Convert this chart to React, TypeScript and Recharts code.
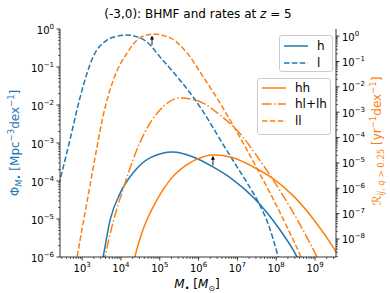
import React from 'react';
import { LineChart, Line, XAxis, YAxis, ReferenceLine } from 'recharts';

const BLUE = '#1f77b4';
const ORANGE = '#ff7f0e';
const FONT = '"DejaVu Sans", sans-serif';

// everything below is log10
// BHMF, left axis
const hMass = [3.50, 3.54, 3.72, 3.98, 4.31, 4.75, 5.34, 5.86, 6.37, 6.89, 7.40, 7.77, 8.10, 8.44, 8.54, 8.6];
const hPhi = [-6.2, -6.0, -5.03, -4.32, -3.79, -3.39, -3.24, -3.37, -3.63, -3.97, -4.42, -4.84, -5.29, -5.82, -6.0, -6.1];
const lMass = [2.35, 2.43, 2.69, 2.95, 3.28, 3.64, 3.90, 4.16, 4.40, 4.67, 5.01, 5.45, 5.86, 6.22, 6.55, 6.90, 7.25, 7.56, 7.80, 8.05, 8.1];
const lPhi = [-4.3, -3.98, -2.90, -1.79, -0.74, -0.29, -0.19, -0.16, -0.20, -0.34, -0.74, -1.26, -1.79, -2.34, -2.90, -3.48, -4.05, -4.60, -5.15, -6.0, -6.2];

// merger rates, right axis
const hhMass = [4.30, 4.36, 4.57, 4.93, 5.27, 5.70, 6.12, 6.37, 6.89, 7.40, 7.92, 8.44, 8.95, 9.54, 9.6];
const hhRate = [-9.1, -8.70, -7.63, -6.45, -5.66, -5.07, -4.76, -4.68, -4.80, -5.15, -5.62, -6.30, -7.20, -8.50, -8.65];
const hlMass = [3.55, 3.59, 3.80, 4.05, 4.31, 4.62, 5.01, 5.52, 6.04, 6.55, 7.07, 7.58, 8.10, 8.62, 9.05, 9.15];
const hlRate = [-9.0, -8.70, -7.32, -6.06, -4.88, -3.78, -2.90, -2.44, -2.59, -3.11, -3.85, -4.90, -6.10, -7.45, -8.70, -9.0];
const llMass = [2.80, 2.87, 3.13, 3.38, 3.54, 3.80, 4.16, 4.49, 4.83, 5.27, 5.70, 6.12, 6.55, 6.89, 7.25, 7.58, 7.92, 8.27, 8.62, 8.70];
const llRate = [-9.3, -8.70, -6.50, -4.40, -3.15, -1.75, -0.66, -0.07, 0.08, -0.07, -0.66, -1.61, -2.63, -3.52, -4.50, -5.43, -6.42, -7.50, -8.65, -8.95];

// peak markers (log M, tail, head)
const arrowMass = [4.80, 6.37];
const arrowTail = [-0.36, -5.1];
const arrowHead = [0.02, -4.72];

const xExp = [3, 4, 5, 6, 7, 8, 9];
const leftExp = [-6, -5, -4, -3, -2, -1, 0];
const rightExp = [-8, -7, -6, -5, -4, -3, -2, -1, 0];

const xDomain = [10 ** 2.43, 10 ** 9.54];
const leftDomain = [1e-6, 1];
const rightDomain = [10 ** -8.71, 10 ** 0.28];

const toPoints = (mass: number[], vals: number[]) =>
  mass.map((m, i) => ({ m: 10 ** m, v: 10 ** vals[i] }));

const withMinors = (exps: number[], dom: number[]) => {
  const out: number[] = [];
  for (let e = exps[0] - 1; e <= exps[exps.length - 1]; e++) {
    for (let k = 1; k < 10; k++) {
      const v = k * 10 ** e;
      if (v >= dom[0] * 0.999 && v <= dom[1] * 1.001) out.push(v);
    }
  }
  return out;
};

const isMajor = (v: number) => {
  const e = Math.log10(v);
  return Math.abs(e - Math.round(e)) < 1e-6;
};
const expText = (v: number) => String(Math.round(Math.log10(v))).replace('-', '\u2212');

const XTick = ({ x, y, payload }: any) => {
  const major = isMajor(payload.value);
  return (
    <g>
      <line x1={x} y1={y} x2={x} y2={y + (major ? 3.5 : 2)} stroke="#000" strokeWidth={major ? 0.8 : 0.6} />
      {major && (
        <text x={x} y={y + 15} textAnchor="middle" fontSize={10} fontFamily={FONT} fill="#000">
          10<tspan dy={-5} fontSize={7}>{expText(payload.value)}</tspan>
        </text>
      )}
    </g>
  );
};

const YTick = ({ x, y, payload, side }: any) => {
  const major = isMajor(payload.value);
  const s = side === 'left' ? -1 : 1;
  return (
    <g>
      <line x1={x} y1={y} x2={x + s * (major ? 3.5 : 2)} y2={y} stroke="#000" strokeWidth={major ? 0.8 : 0.6} />
      {major && (
        <text x={x + s * 6} y={y + 4.5} textAnchor={side === 'left' ? 'end' : 'start'} fontSize={10} fontFamily={FONT} fill="#000">
          10<tspan dy={-5} fontSize={7}>{expText(payload.value)}</tspan>
        </text>
      )}
    </g>
  );
};

const ArrowShape = (p: any) => {
  const { x1, y1, x2, y2 } = p;
  return (
    <g>
      <line x1={x1} y1={y1} x2={x2} y2={y2 + 3} stroke="#000" strokeWidth={0.9} />
      <path d={`M${x2 - 2},${y2 + 4} L${x2},${y2} L${x2 + 2},${y2 + 4} Z`} fill="#000" />
    </g>
  );
};

const legendTop = [
  { name: 'h', color: BLUE, dash: undefined },
  { name: 'l', color: BLUE, dash: '5.5 2.4' },
];
const legendBottom = [
  { name: 'hh', color: ORANGE, dash: undefined },
  { name: 'hl+lh', color: ORANGE, dash: '9.6 2.4 1.5 2.4' },
  { name: 'll', color: ORANGE, dash: '5.5 2.4' },
];

const LegendBox = ({ items, left, top, width, height, rows }: any) => (
  <div
    style={{
      position: 'absolute', left, top, width, height, boxSizing: 'border-box',
      border: '1px solid #ccc', borderRadius: 3, background: 'rgba(255,255,255,0.8)',
    }}
  >
    {items.map((it: any, i: number) => (
      <div key={it.name} style={{ position: 'absolute', left: 3, top: rows[i] - 7, height: 14, display: 'flex', alignItems: 'center' }}>
        <svg width={26} height={14}>
          <line x1={1} y1={7} x2={25} y2={7} stroke={it.color} strokeWidth={1.5} strokeDasharray={it.dash} />
        </svg>
        <span style={{ marginLeft: 8, fontSize: 12, lineHeight: '14px' }}>{it.name}</span>
      </div>
    ))}
  </div>
);

const sub = (fs: number, top: number): React.CSSProperties => ({ fontSize: fs, position: 'relative', top });

export default function App() {
  const xTicks = withMinors(xExp, xDomain);
  const leftTicks = withMinors(leftExp, leftDomain);
  const rightTicks = withMinors(rightExp, rightDomain);

  return (
    <div style={{ position: 'absolute', left: 0, top: 0, width: 390, height: 293, fontFamily: FONT, color: '#000', background: '#fff' }}>
      <LineChart width={390} height={293} margin={{ top: 29, right: 0, bottom: 0, left: 0 }}>
        <XAxis
          dataKey="m" type="number" scale="log" domain={xDomain} allowDataOverflow
          ticks={xTicks} interval={0} tick={(p: any) => <XTick {...p} />}
          tickLine={false} tickSize={0} tickMargin={0} height={36}
          axisLine={{ stroke: '#000', strokeWidth: 0.8 }}
        />
        <XAxis xAxisId="top" orientation="top" type="number" domain={[0, 1]} height={0} tick={false} tickLine={false} axisLine={{ stroke: '#000', strokeWidth: 0.8 }} />
        <YAxis
          yAxisId="left" type="number" scale="log" domain={leftDomain} allowDataOverflow
          ticks={leftTicks} interval={0} tick={(p: any) => <YTick {...p} side="left" />}
          tickLine={false} tickSize={0} tickMargin={0} width={60}
          axisLine={{ stroke: '#000', strokeWidth: 0.8 }}
        />
        <YAxis
          yAxisId="right" orientation="right" type="number" scale="log" domain={rightDomain} allowDataOverflow
          ticks={rightTicks} interval={0} tick={(p: any) => <YTick {...p} side="right" />}
          tickLine={false} tickSize={0} tickMargin={0} width={54}
          axisLine={{ stroke: '#000', strokeWidth: 0.8 }}
        />
        <Line yAxisId="left" data={toPoints(hMass, hPhi)} dataKey="v" type="monotone" stroke={BLUE} strokeWidth={1.5} dot={false} isAnimationActive={false} />
        <Line yAxisId="left" data={toPoints(lMass, lPhi)} dataKey="v" type="monotone" stroke={BLUE} strokeWidth={1.5} strokeDasharray="5.5 2.4" dot={false} isAnimationActive={false} />
        <Line yAxisId="right" data={toPoints(hhMass, hhRate)} dataKey="v" type="monotone" stroke={ORANGE} strokeWidth={1.5} dot={false} isAnimationActive={false} />
        <Line yAxisId="right" data={toPoints(hlMass, hlRate)} dataKey="v" type="monotone" stroke={ORANGE} strokeWidth={1.5} strokeDasharray="9.6 2.4 1.5 2.4" dot={false} isAnimationActive={false} />
        <Line yAxisId="right" data={toPoints(llMass, llRate)} dataKey="v" type="monotone" stroke={ORANGE} strokeWidth={1.5} strokeDasharray="5.5 2.4" dot={false} isAnimationActive={false} />
        {arrowMass.map((m, i) => (
          <ReferenceLine
            key={i} yAxisId="right"
            segment={[{ x: 10 ** m, y: 10 ** arrowTail[i] }, { x: 10 ** m, y: 10 ** arrowHead[i] }]}
            shape={ArrowShape}
          />
        ))}
      </LineChart>

      <div style={{ position: 'absolute', left: 198, top: 14, transform: 'translate(-50%,-50%)', fontSize: 12, whiteSpace: 'nowrap' }}>
        (-3,0): BHMF and rates at <i>z</i> = 5
      </div>
      <div style={{ position: 'absolute', left: 197, top: 284, transform: 'translate(-50%,-50%)', fontSize: 12, whiteSpace: 'nowrap' }}>
        <i>M</i><span style={sub(8, 3)}>•</span> [<i>M</i><span style={sub(8, 3)}>⊙</span>]
      </div>
      <div style={{ position: 'absolute', left: 15, top: 143, transform: 'translate(-50%,-50%) rotate(-90deg)', fontSize: 12, whiteSpace: 'nowrap', color: BLUE }}>
        Φ<span style={sub(8.5, 3)}><i>M</i>•</span> [Mpc<span style={sub(8.5, -5)}>−3</span>dex<span style={sub(8.5, -5)}>−1</span>]
      </div>
      <div style={{ position: 'absolute', left: 377, top: 141, transform: 'translate(-50%,-50%) rotate(-90deg)', fontSize: 12, whiteSpace: 'nowrap', color: ORANGE }}>
        <i>ℛ</i><span style={sub(8.5, 3)}><i>ij</i>, <i>q</i> &gt; 0.25</span> [yr<span style={sub(8.5, -5)}>−1</span>dex<span style={sub(8.5, -5)}>−1</span>]
      </div>

      <LegendBox items={legendTop} left={279} top={35} width={54} height={37} rows={[10, 27]} />
      <LegendBox items={legendBottom} left={257} top={78} width={74} height={57} rows={[9, 25, 42]} />
    </div>
  );
}
